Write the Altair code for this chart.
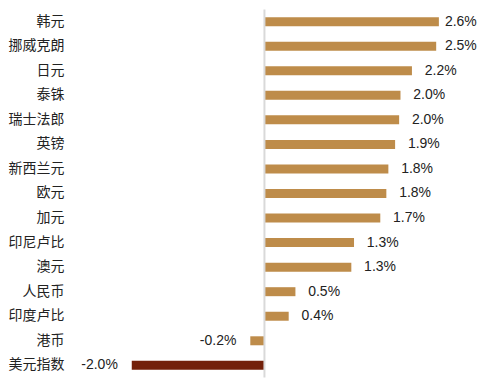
import altair as alt
import pandas as pd

currencies = ["韩元", "挪威克朗", "日元", "泰铢", "瑞士法郎", "英镑", "新西兰元", "欧元",
              "加元", "印尼卢比", "澳元", "人民币", "印度卢比", "港币", "美元指数"]
changes = [2.59, 2.55, 2.19, 2.02, 2.0, 1.94, 1.84, 1.81, 1.72, 1.33, 1.29, 0.46, 0.36, -0.21, -1.97]
highlight = "美元指数"

df = pd.DataFrame({"currency": currencies, "value": changes})

GOLD = "#BE8C4A"
DARK = "#73200A"

y_enc = alt.Y("currency:N", sort=currencies,
              scale=alt.Scale(paddingInner=0, paddingOuter=0),
              axis=alt.Axis(title=None, domain=False, ticks=False, grid=False,
                            labelFont="Noto Sans CJK SC", labelFontSize=14,
                            labelColor="#222222", labelPadding=6))
x_scale = alt.Scale(domain=[-2.889, 3.156], nice=False, zero=False)

base = alt.Chart(df).transform_calculate(
    label="(datum.value < 0 ? '-' : '') + format(abs(datum.value), '.1f') + '%'",
    lxp="min(datum.value + 0.19, 2.68)",
    lxn="datum.value - 0.207",
)

bars = base.mark_bar(size=9).encode(
    y=y_enc,
    x=alt.X("value:Q", scale=x_scale, axis=None),
    color=alt.condition(alt.datum.currency == highlight, alt.value(DARK), alt.value(GOLD)),
)

zero = alt.Chart(pd.DataFrame({"z": [0]})).mark_rule(color="#D9D9D9", strokeWidth=2).encode(
    x=alt.X("z:Q", scale=x_scale, axis=None)
)

pos_text = base.transform_filter("datum.value >= 0").mark_text(
    align="left", baseline="middle", font="Liberation Sans", fontSize=14, color="#222222"
).encode(
    y=y_enc,
    x=alt.X("lxp:Q", scale=x_scale, axis=None),
    text="label:N",
)

neg_text = base.transform_filter("datum.value < 0").mark_text(
    align="right", baseline="middle", font="Liberation Sans", fontSize=14, color="#222222"
).encode(
    y=y_enc,
    x=alt.X("lxn:Q", scale=x_scale, axis=None),
    text="label:N",
)

chart = alt.layer(bars, zero, pos_text, neg_text).properties(
    width=408, height=369, padding={"left": 0, "top": 0, "right": 0, "bottom": 0}
).configure_view(stroke=None)

chart.save("out.html", embed_options={"renderer": "svg", "actions": False})
